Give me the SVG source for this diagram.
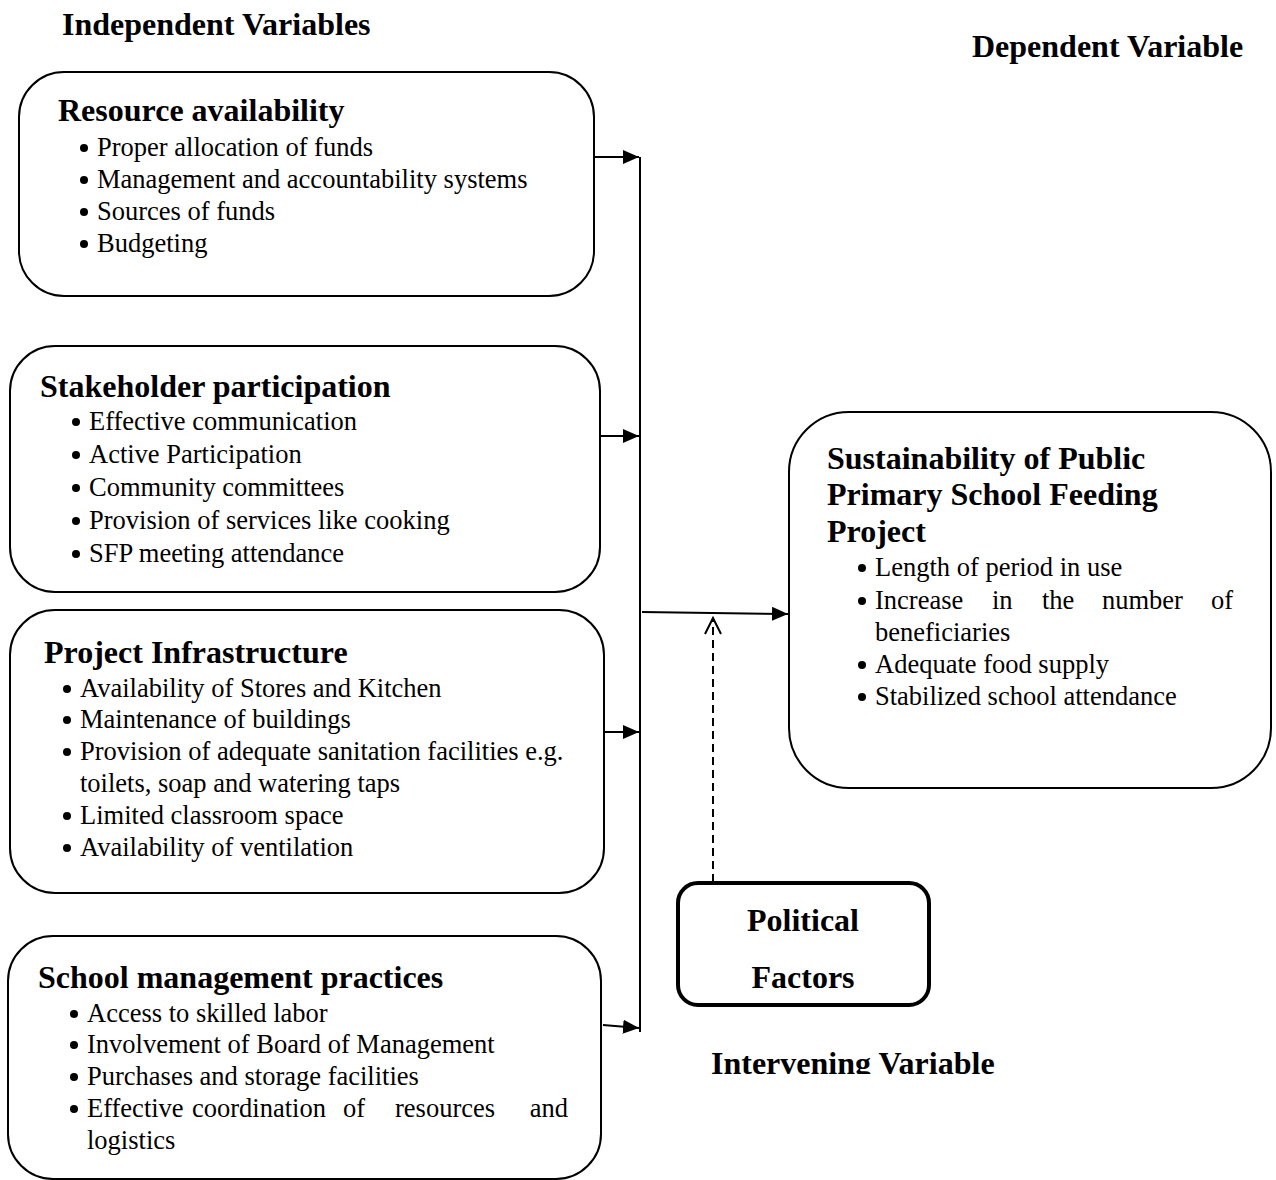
<svg xmlns="http://www.w3.org/2000/svg" width="1276" height="1180" viewBox="0 0 1276 1180">
<style>
.box{fill:#fff;stroke:#000;stroke-width:2}
.h{font-family:'Liberation Serif','Times New Roman',serif;font-weight:bold;font-size:32px;fill:#000}
.t{font-family:'Liberation Serif','Times New Roman',serif;font-size:26.5px;fill:#000}
.ln{stroke:#000;stroke-width:2;fill:none}
</style>
<defs>
<marker id="ah" markerWidth="16" markerHeight="14" refX="16" refY="7" orient="auto" markerUnits="userSpaceOnUse" viewBox="0 0 16 14"><path d="M0,0 L16,7 L0,14 z" fill="#000"/></marker>
<clipPath id="clipIV"><rect x="0" y="0" width="1276" height="1074"/></clipPath>
</defs>
<text class="h" x="62" y="35">Independent Variables</text>
<text class="h" x="972" y="57">Dependent Variable</text>
<g id="connectors">
<line class="ln" x1="640" y1="157" x2="640" y2="1032"/>
<line class="ln" x1="595" y1="157" x2="639" y2="157" marker-end="url(#ah)"/>
<line class="ln" x1="600" y1="436" x2="639" y2="436" marker-end="url(#ah)"/>
<line class="ln" x1="605" y1="732" x2="639" y2="732" marker-end="url(#ah)"/>
<line class="ln" x1="603" y1="1025" x2="639" y2="1028" marker-end="url(#ah)"/>
<line class="ln" x1="642" y1="612" x2="788" y2="614" marker-end="url(#ah)"/>
<line class="ln" x1="713" y1="882" x2="713" y2="618" stroke-dasharray="8,5"/>
<path d="M705,634 L713,618 L721,634" fill="none" stroke="#000" stroke-width="2"/>
</g>
<g id="resource">
<rect class="box" x="19" y="72" width="575" height="224" rx="45"/>
<text class="h" x="58" y="121">Resource availability</text>
<circle cx="84" cy="148" r="4"/><text class="t" x="97" y="156">Proper allocation of funds</text>
<circle cx="84" cy="180" r="4"/><text class="t" x="97" y="188">Management and accountability systems</text>
<circle cx="84" cy="212" r="4"/><text class="t" x="97" y="220">Sources of funds</text>
<circle cx="84" cy="244" r="4"/><text class="t" x="97" y="252">Budgeting</text>
</g>
<g id="stakeholder">
<rect class="box" x="10" y="346" width="590" height="246" rx="45"/>
<text class="h" x="40" y="397">Stakeholder participation</text>
<circle cx="76" cy="422" r="4"/><text class="t" x="89" y="430">Effective communication</text>
<circle cx="76" cy="455" r="4"/><text class="t" x="89" y="463">Active Participation</text>
<circle cx="76" cy="488" r="4"/><text class="t" x="89" y="496">Community committees</text>
<circle cx="76" cy="521" r="4"/><text class="t" x="89" y="529">Provision of services like cooking</text>
<circle cx="76" cy="554" r="4"/><text class="t" x="89" y="562">SFP meeting attendance</text>
</g>
<g id="infrastructure">
<rect class="box" x="10" y="610" width="594" height="283" rx="45"/>
<text class="h" x="44" y="663">Project Infrastructure</text>
<circle cx="67" cy="689" r="4"/><text class="t" x="80" y="697">Availability of Stores and Kitchen</text>
<circle cx="67" cy="720" r="4"/><text class="t" x="80" y="728">Maintenance of buildings</text>
<circle cx="67" cy="752" r="4"/><text class="t" x="80" y="760">Provision of adequate sanitation facilities e.g.</text>
<text class="t" x="80" y="792">toilets, soap and watering taps</text>
<circle cx="67" cy="816" r="4"/><text class="t" x="80" y="824">Limited classroom space</text>
<circle cx="67" cy="848" r="4"/><text class="t" x="80" y="856">Availability of ventilation</text>
</g>
<g id="management">
<rect class="box" x="8" y="936" width="593" height="243" rx="45"/>
<text class="h" x="38" y="988">School management practices</text>
<circle cx="74" cy="1014" r="4"/><text class="t" x="87" y="1022">Access to skilled labor</text>
<circle cx="74" cy="1045" r="4"/><text class="t" x="87" y="1053">Involvement of Board of Management</text>
<circle cx="74" cy="1077" r="4"/><text class="t" x="87" y="1085">Purchases and storage facilities</text>
<circle cx="74" cy="1109" r="4"/><text class="t" x="87" y="1117">Effective</text><text class="t" x="192" y="1117">coordination</text><text class="t" x="343" y="1117">of</text><text class="t" x="395" y="1117">resources</text><text class="t" x="568" y="1117" text-anchor="end">and</text>
<text class="t" x="87" y="1149">logistics</text>
</g>
<g id="sustainability">
<rect class="box" x="789" y="412" width="482" height="376" rx="60"/>
<text class="h" x="827" y="469">Sustainability of Public</text>
<text class="h" x="827" y="505">Primary School Feeding</text>
<text class="h" x="827" y="542">Project</text>
<circle cx="862" cy="568" r="4"/><text class="t" x="875" y="576">Length of period in use</text>
<circle cx="862" cy="601" r="4"/><text class="t" x="875" y="609">Increase</text><text class="t" x="992" y="609">in</text><text class="t" x="1042" y="609">the</text><text class="t" x="1102" y="609">number</text><text class="t" x="1233" y="609" text-anchor="end">of</text>
<text class="t" x="875" y="641">beneficiaries</text>
<circle cx="862" cy="665" r="4"/><text class="t" x="875" y="673">Adequate food supply</text>
<circle cx="862" cy="697" r="4"/><text class="t" x="875" y="705">Stabilized school attendance</text>
</g>
<g id="political">
<rect x="678" y="883" width="251" height="122" rx="20" fill="#fff" stroke="#000" stroke-width="4"/>
<text class="h" x="803" y="931" text-anchor="middle">Political</text>
<text class="h" x="803" y="988" text-anchor="middle">Factors</text>
</g>
<text class="h" x="711" y="1074" clip-path="url(#clipIV)">Intervening Variable</text>
</svg>
